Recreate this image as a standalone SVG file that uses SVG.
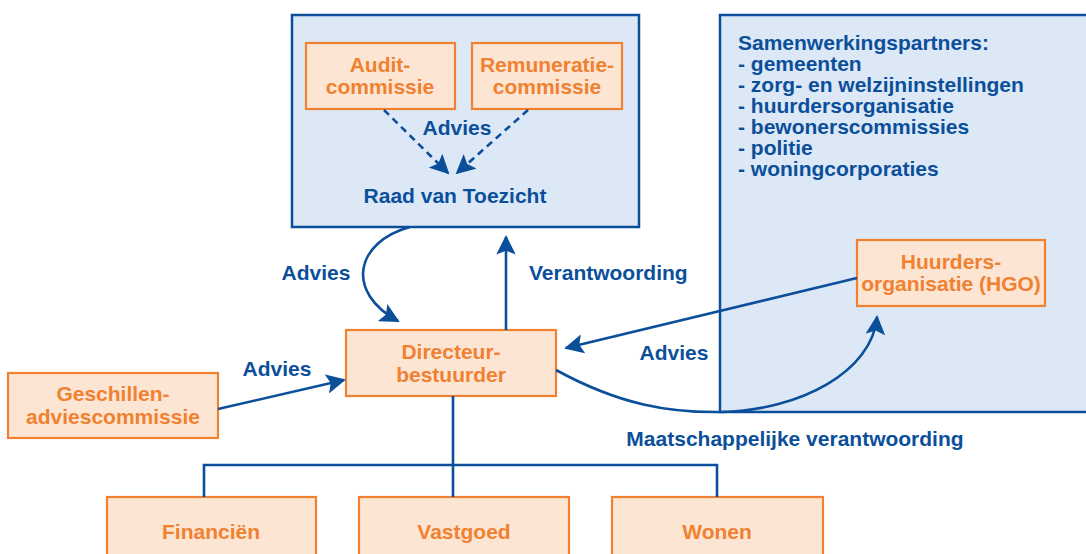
<svg xmlns="http://www.w3.org/2000/svg" width="1086" height="554" viewBox="0 0 1086 554">
<defs>
<style>
.panel{fill:#dce8f6;stroke:#0b4f9b;stroke-width:2.5}
.node{fill:#fde5d3;stroke:#f08130;stroke-width:2.2}
.nt{font-family:"Liberation Sans",Arial,sans-serif;font-weight:bold;font-size:21px;fill:#f08130;text-anchor:middle}
.bt{font-family:"Liberation Sans",Arial,sans-serif;font-weight:bold;font-size:21px;fill:#0b4f9b}
.ln{fill:none;stroke:#0b4f9b;stroke-width:2.6}
</style>
<marker id="ah" viewBox="0 0 10 10" refX="9" refY="5" markerWidth="7.5" markerHeight="7.5" markerUnits="strokeWidth" orient="auto">
<path d="M0,0 L10,5 L0,10 L2,5 z" fill="#0b4f9b"/>
</marker>
</defs>
<rect width="1086" height="554" fill="#ffffff"/>
<g id="raad">
<rect class="panel" x="292" y="15" width="347" height="212"/>
<text class="bt" x="455" y="203" text-anchor="middle">Raad van Toezicht</text>
</g>
<g id="partners">
<rect class="panel" x="720" y="15" width="380" height="397"/>
<text class="bt" x="738" y="50">Samenwerkingspartners:</text>
<text class="bt" x="738" y="71">- gemeenten</text>
<text class="bt" x="738" y="92">- zorg- en welzijninstellingen</text>
<text class="bt" x="738" y="113">- huurdersorganisatie</text>
<text class="bt" x="738" y="134">- bewonerscommissies</text>
<text class="bt" x="738" y="155">- politie</text>
<text class="bt" x="738" y="176">- woningcorporaties</text>
</g>
<g id="audit">
<rect class="node" x="306" y="43" width="149" height="66"/>
<text class="nt" x="380" y="72">Audit-</text>
<text class="nt" x="380" y="94">commissie</text>
</g>
<g id="remuneratie">
<rect class="node" x="472" y="43" width="150" height="66"/>
<text class="nt" x="547" y="72">Remuneratie-</text>
<text class="nt" x="547" y="94">commissie</text>
</g>
<g id="hgo">
<rect class="node" x="857" y="240" width="188" height="66"/>
<text class="nt" x="951" y="269">Huurders-</text>
<text class="nt" x="951" y="291">organisatie (HGO)</text>
</g>
<g id="directeur">
<rect class="node" x="346" y="330" width="210" height="66"/>
<text class="nt" x="451" y="359">Directeur-</text>
<text class="nt" x="451" y="382">bestuurder</text>
</g>
<g id="geschillen">
<rect class="node" x="8" y="373" width="210" height="65"/>
<text class="nt" x="113" y="401">Geschillen-</text>
<text class="nt" x="113" y="424">adviescommissie</text>
</g>
<g id="financien">
<rect class="node" x="107" y="497" width="209" height="70"/>
<text class="nt" x="211" y="539">Financiën</text>
</g>
<g id="vastgoed">
<rect class="node" x="359" y="497" width="210" height="70"/>
<text class="nt" x="464" y="539">Vastgoed</text>
</g>
<g id="wonen">
<rect class="node" x="612" y="497" width="211" height="70"/>
<text class="nt" x="717" y="539">Wonen</text>
</g>
<g id="connectors">
<path class="ln" d="M384,110 L448,173" stroke-dasharray="7,5" marker-end="url(#ah)"/>
<path class="ln" d="M528,110 L457,173" stroke-dasharray="7,5" marker-end="url(#ah)"/>
<path class="ln" d="M410,227 C355,242 345,292 398,321" marker-end="url(#ah)"/>
<path class="ln" d="M506,330 L506,237" marker-end="url(#ah)"/>
<path class="ln" d="M857,278 L566,348" marker-end="url(#ah)"/>
<path class="ln" d="M218,409 L344,380" marker-end="url(#ah)"/>
<path class="ln" d="M556,370 C620,405 670,413 722,412 C800,410 872,372 877,317" marker-end="url(#ah)"/>
<path class="ln" d="M453,396 L453,497 M204,497 L204,465 L717,465 L717,497"/>
</g>
<g id="labels">
<text class="bt" x="457" y="135" text-anchor="middle">Advies</text>
<text class="bt" x="316" y="280" text-anchor="middle">Advies</text>
<text class="bt" x="529" y="280">Verantwoording</text>
<text class="bt" x="674" y="360" text-anchor="middle">Advies</text>
<text class="bt" x="277" y="376" text-anchor="middle">Advies</text>
<text class="bt" x="795" y="446" text-anchor="middle">Maatschappelijke verantwoording</text>
<text x="1030" y="563" font-family="Liberation Sans,Arial,sans-serif" font-size="13" fill="#0b4f9b">Figuur</text>
</g>
</svg>
